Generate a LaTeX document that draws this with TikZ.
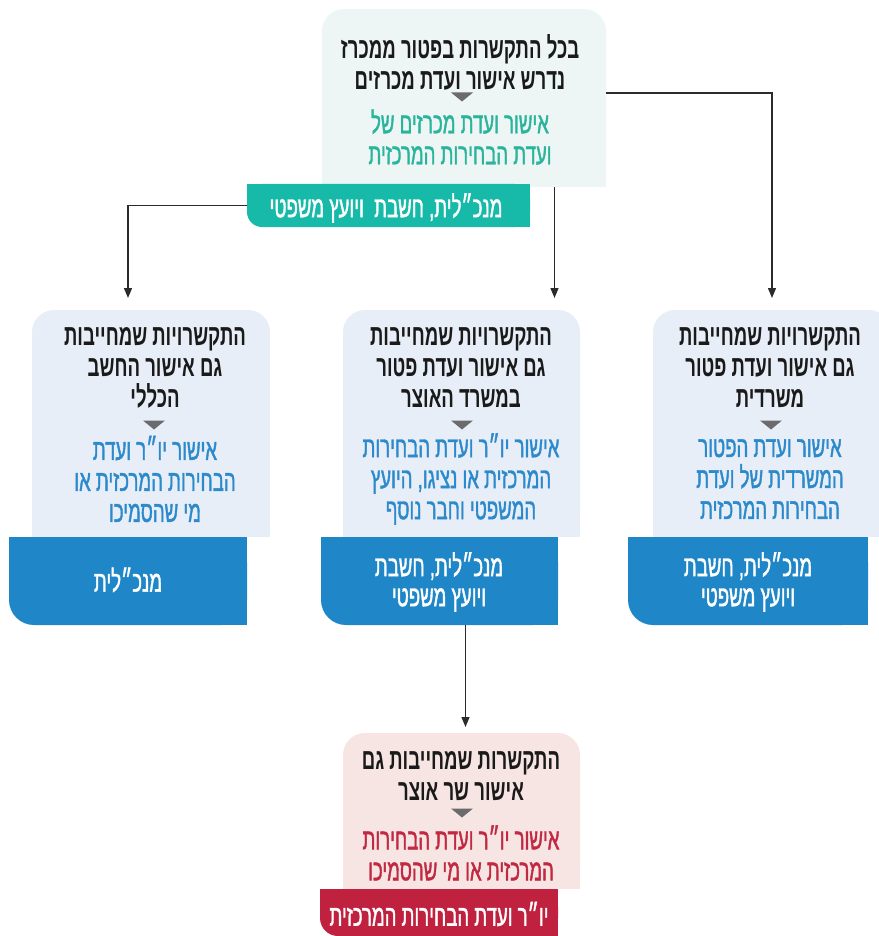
\documentclass[tikz,border=0pt]{standalone}
\usepackage{fontspec}
\usetikzlibrary{arrows.meta}
\TeXXeTstate=1
\newfontfamily\heb[Script=Hebrew,FakeStretch=0.63]{Liberation Sans}
\newfontfamily\hebm[Script=Hebrew,FakeStretch=0.63,FakeBold=1.3]{Liberation Sans}
\newcommand\RL[1]{\beginR #1\endR}
\definecolor{ink}{HTML}{1A1A1A}
\definecolor{mintbg}{HTML}{EDF6F5}
\definecolor{tealc}{HTML}{17B9A8}
\definecolor{tealt}{HTML}{2AB49C}
\definecolor{bluebg}{HTML}{E8EEF8}
\definecolor{bluec}{HTML}{1F86C7}
\definecolor{bluet}{HTML}{2C8ACB}
\definecolor{pinkbg}{HTML}{F7E5E3}
\definecolor{crim}{HTML}{C0213F}
\definecolor{crimt}{HTML}{C12942}
\definecolor{trig}{HTML}{6B6B6D}
\definecolor{linec}{HTML}{2B2B2B}
\tikzset{
  frame/.style={inner sep=0pt, outer sep=0pt},
  qtext/.style={inner sep=0pt, align=center, text=ink, font=\heb\bfseries\fontsize{29.5}{31}\selectfont},
  atext/.style={inner sep=0pt, align=center, font=\hebm\fontsize{29.5}{31}\selectfont},
  tagtext/.style={inner sep=0pt, align=center, text=white, font=\hebm\fontsize{29.5}{30}\selectfont},
  conn/.style={draw=linec, line width=1.3pt, -{Triangle[length=10pt,width=8pt]}},
}
\newcommand\boxbg[2]{%
  \fill[#2, rounded corners=22pt] (#1.south west) rectangle (#1.north east);
  \fill[#2] (#1.south west) rectangle ([yshift=-30pt]#1.north east);}
\newcommand\tagbg[3]{%
  \fill[#2, rounded corners=#3] (#1.south west) rectangle (#1.north east);
  \fill[#2] ([xshift=#3]#1.south west) rectangle (#1.north east);
  \fill[#2] ([yshift=#3]#1.south west) rectangle (#1.north east);}
\newcommand\tri[3]{\fill[trig] (#1,#2) ++(-11,-4.5) -- ++(22,0) -- ++(-11,9) -- cycle;}
\begin{document}
\begin{tikzpicture}[x=1pt,y=-1pt]
\useasboundingbox (0,0) rectangle (878,936);
% frames
\node[frame, minimum width=284pt, minimum height=178pt] (top) at (464,98) {};
\node[frame, minimum width=283pt, minimum height=43pt] (ttag) at (388.5,205.5) {};
\node[frame, minimum width=238pt, minimum height=227pt] (lbox) at (151,423.5) {};
\node[frame, minimum width=238pt, minimum height=88pt] (ltag) at (128,581) {};
\node[frame, minimum width=237pt, minimum height=227pt] (mbox) at (461.5,423.5) {};
\node[frame, minimum width=237pt, minimum height=88pt] (mtag) at (439.5,581) {};
\node[frame, minimum width=238pt, minimum height=227pt] (rbox) at (772,423.5) {};
\node[frame, minimum width=240pt, minimum height=88pt] (rtag) at (748,581) {};
\node[frame, minimum width=237pt, minimum height=156pt] (bbox) at (461.5,811) {};
\node[frame, minimum width=238pt, minimum height=47pt] (btag) at (439,912.5) {};
% backgrounds
\boxbg{top}{mintbg}
\boxbg{lbox}{bluebg}
\boxbg{mbox}{bluebg}
\boxbg{rbox}{bluebg}
\boxbg{bbox}{pinkbg}
\tagbg{ttag}{tealc}{15pt}
\tagbg{ltag}{bluec}{25pt}
\tagbg{mtag}{bluec}{25pt}
\tagbg{rtag}{bluec}{25pt}
\tagbg{btag}{crim}{18pt}
% triangles
\tri{462}{97}{}
\tri{154}{425}{}
\tri{462}{425}{}
\tri{771}{425}{}
\tri{462}{813}{}
% texts
\node[qtext] (topq) at (460,62) {\RL{בכל התקשרות בפטור ממכרז}\\\RL{נדרש אישור ועדת מכרזים}};
\node[atext, text=tealt] (topa) at (460,137) {\RL{אישור ועדת מכרזים של}\\\RL{ועדת הבחירות המרכזית}};
\node[tagtext] (ttagt) at (386,208) {\RL{מנכ״לית, חשבת\ \ ויועץ משפטי}};

\node[qtext] (lq) at (155,368) {\RL{התקשרויות שמחייבות}\\\RL{גם אישור החשב}\\\RL{הכללי}};
\node[atext, text=bluet] (la) at (155,479) {\RL{אישור יו״ר ועדת}\\\RL{הבחירות המרכזית או}\\\RL{מי שהסמיכו}};
\node[tagtext] (ltagt) at (128,580) {\RL{מנכ״לית}};

\node[qtext] (mq) at (461,368) {\RL{התקשרויות שמחייבות}\\\RL{גם אישור ועדת פטור}\\\RL{במשרד האוצר}};
\node[atext, text=bluet] (ma) at (461,479) {\RL{אישור יו״ר ועדת הבחירות}\\\RL{המרכזית או נציגו, היועץ}\\\RL{המשפטי וחבר נוסף}};
\node[tagtext] (mtagt) at (439,582) {\RL{מנכ״לית, חשבת}\\\RL{ויועץ משפטי}};

\node[qtext] (rq) at (770,368) {\RL{התקשרויות שמחייבות}\\\RL{גם אישור ועדת פטור}\\\RL{משרדית}};
\node[atext, text=bluet] (ra) at (770,479) {\RL{אישור ועדת הפטור}\\\RL{המשרדית של ועדת}\\\RL{הבחירות המרכזית}};
\node[tagtext] (rtagt) at (748,582) {\RL{מנכ״לית, חשבת}\\\RL{ויועץ משפטי}};

\node[qtext] (bq) at (461,776) {\RL{התקשרות שמחייבות גם}\\\RL{אישור שר אוצר}};
\node[atext, text=crimt] (ba) at (461,853) {\RL{אישור יו״ר ועדת הבחירות}\\\RL{המרכזית או מי שהסמיכו}};
\node[tagtext] (btagt) at (439,914) {\RL{יו״ר ועדת הבחירות המרכזית}};
% connectors
\coordinate (rtip) at ([yshift=12pt]rbox.north);
\coordinate (mtip) at ([xshift=93pt,yshift=12pt]mbox.north);
\coordinate (ltip) at ([xshift=-23pt,yshift=12pt]lbox.north);
\coordinate (btip) at ([xshift=4pt,yshift=6pt]bbox.north);
\draw[conn] ([yshift=5pt]top.east) -| (rtip);
\draw[conn] (top.south -| mtip) -- (mtip);
\draw[conn] (ttag.west) -| (ltip);
\draw[conn] (mtag.south -| btip) -- (btip);
\end{tikzpicture}
\end{document}
